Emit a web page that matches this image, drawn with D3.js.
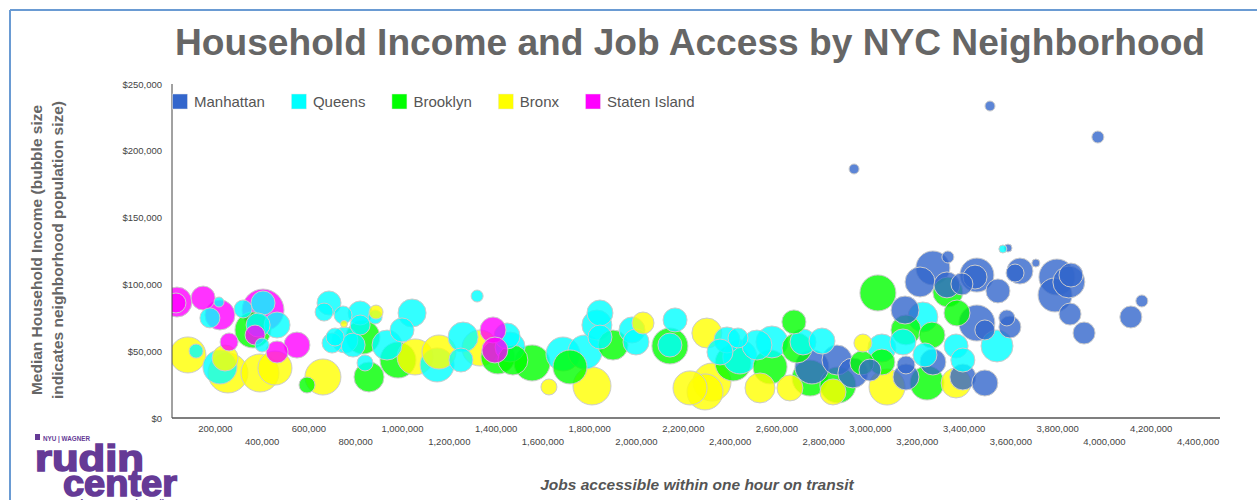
<!DOCTYPE html>
<html><head><meta charset="utf-8">
<script src="https://cdn.jsdelivr.net/npm/d3@7"></script>
<style>
body{margin:0;background:#fff}
svg{display:block}
text{font-family:"Liberation Sans",Arial,Helvetica,sans-serif}
</style>
</head><body>
<svg id="chart" width="1257" height="500"></svg>
<script>
// ---------------- DATA ----------------
const boroughs = ["Manhattan", "Queens", "Brooklyn", "Bronx", "Staten Island"];
const boroughColors = ["#3366cc", "#00ffff", "#00ff00", "#ffff00", "#ff00ff"];

const manhattanJobs = [2752000,2859000,2927000,3000000,2932000,3150000,3214000,3154000,3154000,3269000,3333000,3329000,3393000,3457000,3449000,3547000,3641000,3620000,3709000,3590000,3513000,3974000,3799000,3850000,3859000,3791000,3855000,3915000,4115000,4162000,3457000,3491000,3585000,3598000,3269000,3397000,3491000];
const manhattanIncome = [38200,43400,33700,35900,186400,80800,101800,39700,30700,112300,120500,99600,100300,107000,105500,95100,110000,108500,116000,127200,233500,210300,105500,101800,107000,92100,77800,63600,75600,87600,71100,65900,74900,68100,41900,30700,26200];
const manhattanPop = [85000,75000,75000,55000,25000,70000,75000,45000,65000,85000,30000,65000,55000,85000,60000,60000,65000,45000,20000,20000,25000,30000,90000,80000,60000,85000,55000,55000,55000,30000,90000,50000,40000,55000,65000,65000,65000];

const queensJobs = [218000,179000,321000,406000,385000,466000,402000,120000,222000,688000,667000,748000,821000,821000,885000,714000,756000,791000,701000,842000,1043000,1000000,936000,1150000,1261000,1252000,1321000,1449000,1462000,1688000,1782000,1846000,1833000,1846000,1983000,2000000,2167000,2145000,2389000,2436000,2359000,2444000,2517000,2581000,2714000,2795000,3051000,3141000,3226000,3235000,3368000,3397000,3543000,3568000];
const queensIncome = [86800,74900,81600,86100,69600,69600,54600,50100,38200,86100,79300,77100,78600,69600,75600,60600,58400,54600,56100,41200,78600,65900,54600,39700,60600,43400,91300,61400,53100,47900,49400,78600,69600,60600,65900,56900,73400,54600,58400,59900,49400,45700,54600,56900,56900,57600,52400,56900,75600,47200,53900,43400,53900,126500];
const queensPop = [25000,50000,45000,60000,60000,65000,35000,35000,85000,60000,45000,45000,60000,50000,35000,45000,65000,60000,50000,40000,70000,60000,75000,85000,75000,60000,30000,65000,75000,85000,85000,65000,75000,60000,65000,65000,60000,60000,65000,50000,65000,85000,75000,80000,65000,65000,70000,65000,75000,60000,60000,60000,80000,20000];

const brooklynJobs = [363000,594000,833000,859000,983000,1410000,1474000,1556000,1718000,1902000,2145000,2415000,2573000,2675000,2688000,2744000,2863000,3034000,2966000,3051000,3154000,3265000,3244000,3333000,3372000];
const brooklynIncome = [65900,24700,60600,30700,43400,45700,43400,41200,38200,54600,53900,41200,38200,71900,52400,29900,24700,93600,41200,41900,65900,62100,26200,94300,78600];
const brooklynPop = [90000,40000,85000,75000,90000,85000,75000,90000,85000,75000,90000,90000,85000,60000,75000,90000,90000,90000,60000,65000,75000,65000,85000,75000,65000];

const bronxJobs = [85000,244000,256000,393000,457000,662000,889000,752000,1056000,1158000,1333000,1628000,1812000,2030000,2303000,2231000,2295000,2325000,2530000,2658000,2842000,2970000,3073000,3368000];
const bronxIncome = [47200,44900,33700,33700,37400,30700,79300,70400,45700,49400,52400,23200,24000,71100,63600,22500,19500,26900,22500,22500,19500,56100,23200,26200];
const bronxPop = [90000,65000,100000,95000,85000,90000,35000,17500,90000,85000,90000,40000,95000,55000,75000,85000,90000,95000,75000,65000,65000,45000,90000,75000];

const statenJobs = [38000,34000,150000,222000,261000,406000,372000,466000,551000,1389000,1397000];
const statenIncome = [86800,86100,89800,77100,56900,80800,62100,49400,54600,65900,50900];
const statenPop = [75000,50000,60000,75000,45000,105000,50000,55000,65000,65000,65000];

const xTickValues = [200000,400000,600000,800000,1000000,1200000,1400000,1600000,1800000,2000000,2200000,2400000,2600000,2800000,3000000,3200000,3400000,3600000,3800000,4000000,4200000,4400000];
const yTickValues = [0,50000,100000,150000,200000,250000];

const titleText = "Household Income and Job Access by NYC Neighborhood";
const yTitleLines = ["Median Household Income (bubble size", "indicates neighborhood population size)"];
const xTitleText = "Jobs accessible within one hour on transit";

// ---------------- BUILD ----------------
const series = [
  {name: boroughs[0], jobs: manhattanJobs, income: manhattanIncome, pop: manhattanPop},
  {name: boroughs[1], jobs: queensJobs, income: queensIncome, pop: queensPop},
  {name: boroughs[2], jobs: brooklynJobs, income: brooklynIncome, pop: brooklynPop},
  {name: boroughs[3], jobs: bronxJobs, income: bronxIncome, pop: bronxPop},
  {name: boroughs[4], jobs: statenJobs, income: statenIncome, pop: statenPop}
];
const points = [];
series.forEach((s, si) => {
  s.jobs.forEach((j, i) => points.push({b: si, jobs: j, income: s.income[i], pop: s.pop[i]}));
});
points.sort((a, b) => b.pop - a.pop);

const svg = d3.select("#chart");
const L = 172, R = 1220, T = 84, B = 418;

const x = d3.scaleLinear().domain([17000, 4496000]).range([L, R]);
const y = d3.scaleLinear().domain([0, 250000]).range([B, T]);
const r = d3.scaleLinear().domain([0, 120000]).range([0, 24]);
const color = d3.scaleOrdinal().domain(boroughs).range(boroughColors);

// frame border
svg.append("line").attr("x1", 10).attr("x2", 10).attr("y1", 10).attr("y2", 500)
  .attr("stroke", "#6a9bd3").attr("stroke-width", 2);
svg.append("line").attr("x1", 10).attr("x2", 1257).attr("y1", 10).attr("y2", 10)
  .attr("stroke", "#6a9bd3").attr("stroke-width", 2);

// title
svg.append("text").attr("x", 690).attr("y", 55).attr("text-anchor", "middle")
  .attr("font-size", 36.5).attr("font-weight", "bold").attr("fill", "#666")
  .attr("textLength", 1030).attr("lengthAdjust", "spacingAndGlyphs")
  .text(titleText);

// clip
svg.append("clipPath").attr("id", "plotclip").append("rect")
  .attr("x", L).attr("y", T).attr("width", R - L).attr("height", B - T);

// bubbles
svg.append("g").attr("clip-path", "url(#plotclip)")
  .selectAll("circle").data(points).join("circle")
  .attr("cx", d => x(d.jobs)).attr("cy", d => y(d.income)).attr("r", d => r(d.pop))
  .attr("fill", d => color(boroughs[d.b])).attr("fill-opacity", 0.8)
  .attr("stroke", "#cccccc").attr("stroke-width", 1);

// axes
const xAxis = d3.axisBottom(x).tickValues(xTickValues).tickSize(0).tickFormat(d3.format(","));
const gx = svg.append("g").attr("transform", `translate(0,${B})`).call(xAxis);
gx.select(".domain").remove();
gx.selectAll("text").attr("font-size", 9.5).attr("fill", "#444")
  .attr("font-family", null)
  .attr("dy", null)
  .attr("y", (d, i) => i % 2 === 0 ? 14 : 27);

const yAxis = d3.axisLeft(y).tickValues(yTickValues).tickSize(0).tickFormat(d => "$" + d3.format(",")(d));
const gy = svg.append("g").attr("transform", `translate(${L - 10},0)`).call(yAxis);
gy.select(".domain").remove();
gy.selectAll("text").attr("font-size", 9.5).attr("fill", "#444").attr("font-family", null).attr("x", 0);

svg.append("line").attr("x1", L).attr("x2", L).attr("y1", T).attr("y2", B)
  .attr("stroke", "#444").attr("stroke-width", 1);
svg.append("line").attr("x1", L).attr("x2", R).attr("y1", B).attr("y2", B)
  .attr("stroke", "#555").attr("stroke-width", 1.5);

// legend
const lg = svg.append("g");
let lx = 172.5;
boroughs.forEach((b, i) => {
  lg.append("rect").attr("x", lx).attr("y", 94).attr("width", 15).attr("height", 15)
    .attr("fill", boroughColors[i])
    .attr("stroke", "#e6e6e6").attr("stroke-width", 0.5);
  const t = lg.append("text").attr("x", lx + 21.5).attr("y", 107).attr("font-size", 15)
    .attr("fill", "#555").text(b);
  lx += 21.5 + t.node().getComputedTextLength() + 26.5;
});

// axis titles
const yt = svg.append("g");
yTitleLines.forEach((line, i) => {
  yt.append("text").attr("transform", `translate(${i === 0 ? 42 : 63},250) rotate(-90)`)
    .attr("text-anchor", "middle").attr("font-size", 15.5).attr("font-weight", "bold")
    .attr("fill", "#666").text(line);
});
svg.append("text").attr("x", 697).attr("y", 490).attr("text-anchor", "middle")
  .attr("font-size", 15.5).attr("font-weight", "bold").attr("font-style", "italic")
  .attr("fill", "#555").text(xTitleText);

// logo
const purple = "#653a96";
const logo = svg.append("g");
logo.append("rect").attr("x", 35).attr("y", 434).attr("width", 5).attr("height", 6).attr("fill", purple);
logo.append("text").attr("x", 43).attr("y", 440.5).attr("font-size", 7.5).attr("font-weight", "bold")
  .attr("fill", purple).attr("textLength", 47).attr("lengthAdjust", "spacingAndGlyphs").text("NYU | WAGNER");
logo.append("text").attr("x", 35).attr("y", 470.5).attr("font-size", 37).attr("font-weight", "bold")
  .attr("font-family", "'DejaVu Sans', sans-serif")
  .attr("fill", purple).attr("stroke", purple).attr("stroke-width", 1.6)
  .attr("textLength", 109).attr("lengthAdjust", "spacingAndGlyphs").text("rudin");
logo.append("text").attr("x", 63).attr("y", 495.5).attr("font-size", 37).attr("font-weight", "bold")
  .attr("font-family", "'DejaVu Sans', sans-serif")
  .attr("fill", purple).attr("stroke", purple).attr("stroke-width", 1.6)
  .attr("textLength", 114).attr("lengthAdjust", "spacingAndGlyphs").text("center");
logo.append("text").attr("x", 80).attr("y", 506).attr("font-size", 9.5).attr("font-weight", "bold")
  .attr("fill", purple).attr("textLength", 153).attr("lengthAdjust", "spacingAndGlyphs").text("for transportation policy & management");
</script>
</body></html>
